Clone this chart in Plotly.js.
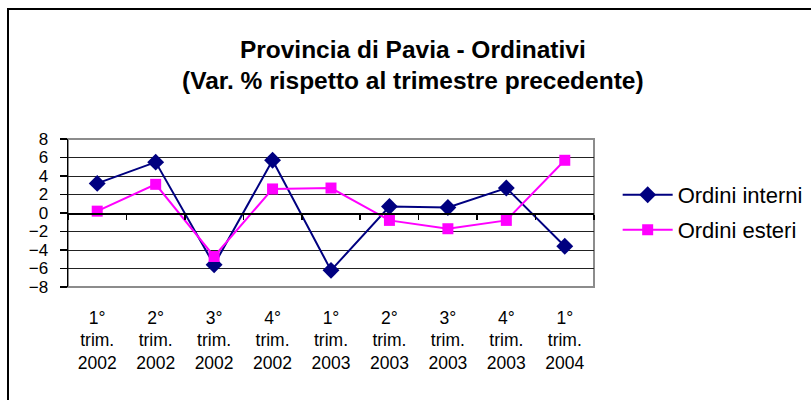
<!DOCTYPE html>
<html>
<head>
<meta charset="utf-8">
<script src="https://cdn.plot.ly/plotly-3.0.1.min.js"></script>
<style>
html,body{margin:0;padding:0;background:#fff;overflow:hidden;}
#chart{width:811px;height:400px;position:absolute;left:0;top:0;}
#frame{position:absolute;left:7px;top:8px;width:900px;height:500px;border-left:2px solid #000;border-top:2px solid #000;pointer-events:none;}
</style>
</head>
<body>
<div id="chart"></div>
<div id="frame"></div>
<script>
var categories = ["1° trim. 2002","2° trim. 2002","3° trim. 2002","4° trim. 2002","1° trim. 2003","2° trim. 2003","3° trim. 2003","4° trim. 2003","1° trim. 2004"];
var tickLabels = ["1°<br>trim.<br>2002","2°<br>trim.<br>2002","3°<br>trim.<br>2002","4°<br>trim.<br>2002","1°<br>trim.<br>2003","2°<br>trim.<br>2003","3°<br>trim.<br>2003","4°<br>trim.<br>2003","1°<br>trim.<br>2004"];
var ordiniInterni = [3.2, 5.5, -5.6, 5.7, -6.2, 0.7, 0.6, 2.7, -3.6];
var ordiniEsteri = [0.2, 3.1, -4.7, 2.6, 2.7, -0.8, -1.7, -0.8, 5.7];
var seriesNames = ["Ordini interni", "Ordini esteri"];

var font = "Liberation Sans, Arial, sans-serif";
var boundaries = [];
for (var i = 0; i <= categories.length; i++) boundaries.push(i - 0.5);

var traces = [
  {x: categories, y: ordiniInterni, name: seriesNames[0], type: 'scatter', mode: 'lines+markers',
   line: {color: '#000080', width: 2}, marker: {symbol: 'diamond', size: 13, color: '#000080'}, legend: 'legend'},
  {x: categories, y: ordiniEsteri, name: seriesNames[1], type: 'scatter', mode: 'lines+markers',
   line: {color: '#FF00FF', width: 2}, marker: {symbol: 'square', size: 11, color: '#FF00FF'}, legend: 'legend2'},
  {x: [], y: [], xaxis: 'x2', yaxis: 'y', showlegend: false, hoverinfo: 'skip', type: 'scatter'}
];

var layout = {
  width: 811, height: 400,
  margin: {l: 68, r: 217, t: 139, b: 113, autoexpand: false},
  paper_bgcolor: '#fff', plot_bgcolor: '#fff',
  font: {family: font, color: '#000', size: 16},
  title: {text: '<b>Provincia di Pavia - Ordinativi</b><br><b>(Var. % rispetto al trimestre precedente)</b>',
          font: {family: font, size: 24.5, color: '#000'},
          xref: 'container', x: 0.509, xanchor: 'center', yref: 'container', y: 0.856, yanchor: 'middle'},
  xaxis: {type: 'category', range: [-0.5, 8.5], tickvals: categories, ticktext: tickLabels,
          showgrid: false, zeroline: false, showline: false, ticks: '',
          tickfont: {family: font, size: 17.5, color: '#000'}, ticklabelstandoff: 18, fixedrange: true},
  xaxis2: {overlaying: 'x', anchor: 'free', position: 0.5, type: 'linear', range: [-0.5, 8.5],
           tickvals: boundaries, showticklabels: false, ticks: 'outside', ticklen: 5, tickwidth: 1.5,
           tickcolor: '#000', showline: true, linecolor: '#000', linewidth: 1.5, showgrid: false, zeroline: false, side: 'bottom'},
  yaxis: {range: [-8, 8], dtick: 2, tick0: 0, showgrid: true, gridcolor: '#222', gridwidth: 1,
          zeroline: false, showline: true, linecolor: '#000', linewidth: 1.5,
          ticks: 'outside', ticklen: 7, tickwidth: 1.5, tickcolor: '#000',
          tickfont: {family: font, size: 17, color: '#000'}, ticklabelstandoff: 8, fixedrange: true},
  shapes: [{type: 'rect', xref: 'paper', yref: 'paper', x0: 0, x1: 1, y0: 0, y1: 1,
            line: {color: '#8c8c8c', width: 2}, layer: 'below'}],
  legend: {x: 1.045, xanchor: 'left', y: 0.622, yanchor: 'middle', bgcolor: 'rgba(0,0,0,0)',
           font: {family: font, size: 22, color: '#000'}, itemwidth: 50},
  legend2: {x: 1.045, xanchor: 'left', y: 0.385, yanchor: 'middle', bgcolor: 'rgba(0,0,0,0)',
           font: {family: font, size: 22, color: '#000'}, itemwidth: 50},
  showlegend: true
};

Plotly.newPlot('chart', traces, layout, {displayModeBar: false, staticPlot: true});
</script>
</body>
</html>
